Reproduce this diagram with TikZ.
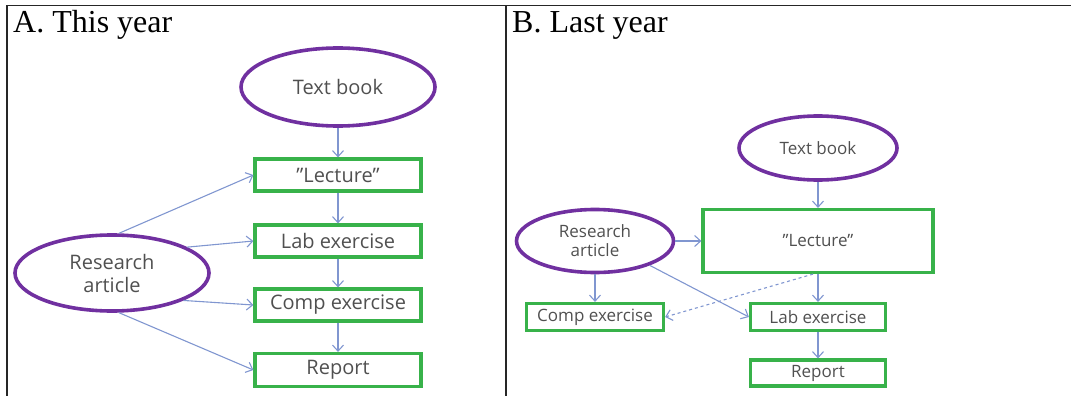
\documentclass[tikz,border=0pt]{standalone}
\usepackage{fontspec}
\setmainfont{Liberation Serif}
\newfontfamily\boxfont{Open Sans}
\usetikzlibrary{shapes.geometric,arrows.meta}

\definecolor{srcpurple}{RGB}{112,48,160}
\definecolor{taskgreen}{RGB}{56,178,74}
\definecolor{flowblue}{RGB}{128,150,208}
\definecolor{labelgray}{RGB}{80,80,80}

\tikzset{
  frame/.style={draw=black!85, line width=1.4pt},
  paneltitle/.style={anchor=base west, inner sep=0pt, font=\fontsize{32}{36}\selectfont},
  src/.style={ellipse, draw=srcpurple, line width=3.6pt, inner sep=0pt, align=center, text=labelgray},
  task/.style={rectangle, draw=taskgreen, line width=3.2pt, inner sep=0pt, text=labelgray},
  flow/.style={draw=flowblue, line width=1.1pt, -{Straight Barb[length=6pt,width=11pt]}},
  bigtext/.style={font=\boxfont\fontsize{20}{23}\selectfont},
  smalltext/.style={font=\boxfont\fontsize{17}{19}\selectfont},
}

\begin{document}
\begin{tikzpicture}[x=1pt,y=-1pt]
\useasboundingbox (0,0) rectangle (1071,396);
\draw[frame] (7,396) -- (7,5.5) -- (1071,5.5);
\draw[frame] (506,5.5) -- (506,396);
\node[paneltitle] (titleA) at (13,33) {A. This year};
\node[paneltitle] (titleB) at (512,33) {B. Last year};

% A. This year
\node[src, bigtext, minimum width=194, minimum height=78] (bookA) at (338,87) {Text book};
\node[task, bigtext, minimum width=166, minimum height=32] (lectureA) at (338,175) {”Lecture”};
\node[task, bigtext, minimum width=166, minimum height=32] (labA) at (338,241) {Lab exercise};
\node[task, bigtext, minimum width=166, minimum height=32] (compA) at (338,305) {Comp exercise};
\node[task, bigtext, minimum width=166, minimum height=33] (reportA) at (338,370) {Report};
\node[src, bigtext, minimum width=194, minimum height=76] (articleA) at (112,273) {Research\\article};
\draw[flow] (bookA) -- (lectureA);
\draw[flow] (lectureA) -- (labA);
\draw[flow] (labA) -- (compA);
\draw[flow] (compA) -- (reportA);
\draw[flow] (articleA.80) -- (lectureA.west);
\draw[flow] (articleA.19) -- (labA.west);
\draw[flow] (articleA.-21) -- (compA.west);
\draw[flow] (articleA.-80) -- (reportA.west);

% B. Last year
\node[src, smalltext, minimum width=158, minimum height=64] (bookB) at (818,148) {Text book};
\node[task, smalltext, minimum width=230, minimum height=63] (lectureB) at (818,241) {”Lecture”};
\node[src, smalltext, minimum width=157, minimum height=63] (articleB) at (595,241) {Research\\article};
\node[task, smalltext, minimum width=137, minimum height=27] (compB) at (595,317) {Comp exercise};
\node[task, smalltext, minimum width=135, minimum height=27] (labB) at (818,317) {Lab exercise};
\node[task, smalltext, minimum width=135, minimum height=26] (reportB) at (818,373) {Report};
\draw[flow] (bookB) -- (lectureB);
\draw[flow] (articleB) -- (lectureB);
\draw[flow] (articleB) -- (compB);
\draw[flow] (articleB.-24) -- (labB.west);
\draw[flow] (lectureB) -- (labB);
\draw[flow] (labB) -- (reportB);
\draw[flow, dashed] ([xshift=-5pt]lectureB.south) -- (compB.east);
\end{tikzpicture}
\end{document}
